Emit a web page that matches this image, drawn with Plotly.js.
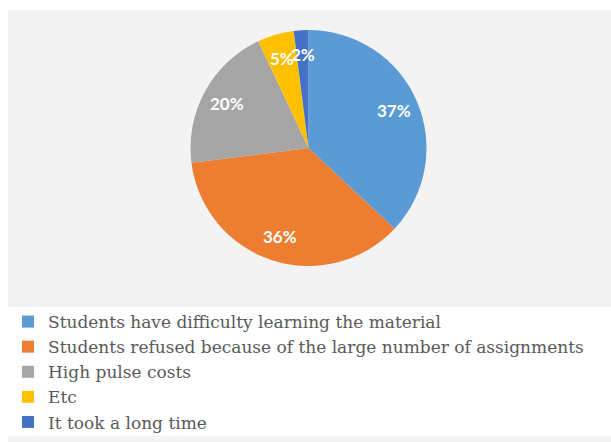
<!DOCTYPE html>
<html>
<head>
<meta charset="utf-8">
<script src="https://cdn.plot.ly/plotly-3.0.1.min.js"></script>
<style>html,body{margin:0;padding:0;background:#fff;}#chart{width:611px;height:442px;}</style>
</head>
<body>
<div id="chart"></div>
<script>
const categories = [
  "Students have difficulty learning the material",
  "Students refused because of the large number of assignments",
  "High pulse costs",
  "Etc",
  "It took a long time"
];
const values = [37, 36, 20, 5, 2];
const percentLabels = ["37%", "36%", "20%", "5%", "2%"];
const colors = ["#5B9BD5", "#ED7D31", "#A5A5A5", "#FFC000", "#4472C4"];

const W = 611, H = 442;
const dom = {x: [190/W, 427/W], y: [1 - 266/H, 1 - 30/H]};
const labelFont = {family: "Lato", size: 17, color: "#ffffff", weight: "bold"};

const trace = {
  type: "pie",
  labels: categories,
  values: values,
  marker: {colors: colors, line: {width: 0}},
  sort: false,
  direction: "clockwise",
  rotation: 0,
  textinfo: "none",
  hoverinfo: "label+percent",
  domain: dom
};

// data labels: at each slice's mid-angle, 0.79 of the radius (Excel-like placement, no shrinking)
const total = values.reduce((a, b) => a + b, 0);
const rPx = Math.min((dom.x[1] - dom.x[0]) * W, (dom.y[1] - dom.y[0]) * H) / 2;
const cx = (dom.x[0] + dom.x[1]) / 2, cy = (dom.y[0] + dom.y[1]) / 2;
let cum = 0;
const annotations = values.map((v, i) => {
  const theta = (cum + v / 2) / total * 2 * Math.PI;
  cum += v;
  return {
    xref: "paper", yref: "paper",
    x: cx + 0.79 * rPx * Math.sin(theta) / W,
    y: cy + 0.79 * rPx * Math.cos(theta) / H,
    text: percentLabels[i], showarrow: false, font: labelFont,
    xanchor: "center", yanchor: "middle"
  };
});

const layout = {
  width: W,
  height: H,
  margin: {l: 0, r: 0, t: 0, b: 0},
  paper_bgcolor: "#ffffff",
  showlegend: true,
  legend: {
    x: 8/W, y: 1 - 304/H, xanchor: "left", yanchor: "top",
    font: {family: "DejaVu Serif", size: 17, color: "#595959"},
    bgcolor: "rgba(0,0,0,0)",
    tracegroupgap: 0,
    itemwidth: 30
  },
  annotations: annotations,
  shapes: [
    {type: "rect", xref: "paper", yref: "paper", layer: "below",
     x0: 8/W, x1: 1, y0: 1 - 307/H, y1: 1 - 10/H,
     fillcolor: "#f3f3f3", line: {width: 0}},
    {type: "rect", xref: "paper", yref: "paper", layer: "below",
     x0: 8/W, x1: 1, y0: 0, y1: 1 - 436/H,
     fillcolor: "#f3f3f3", line: {width: 0}}
  ]
};

Plotly.newPlot("chart", [trace], layout, {displayModeBar: false, staticPlot: true});
</script>
</body>
</html>
